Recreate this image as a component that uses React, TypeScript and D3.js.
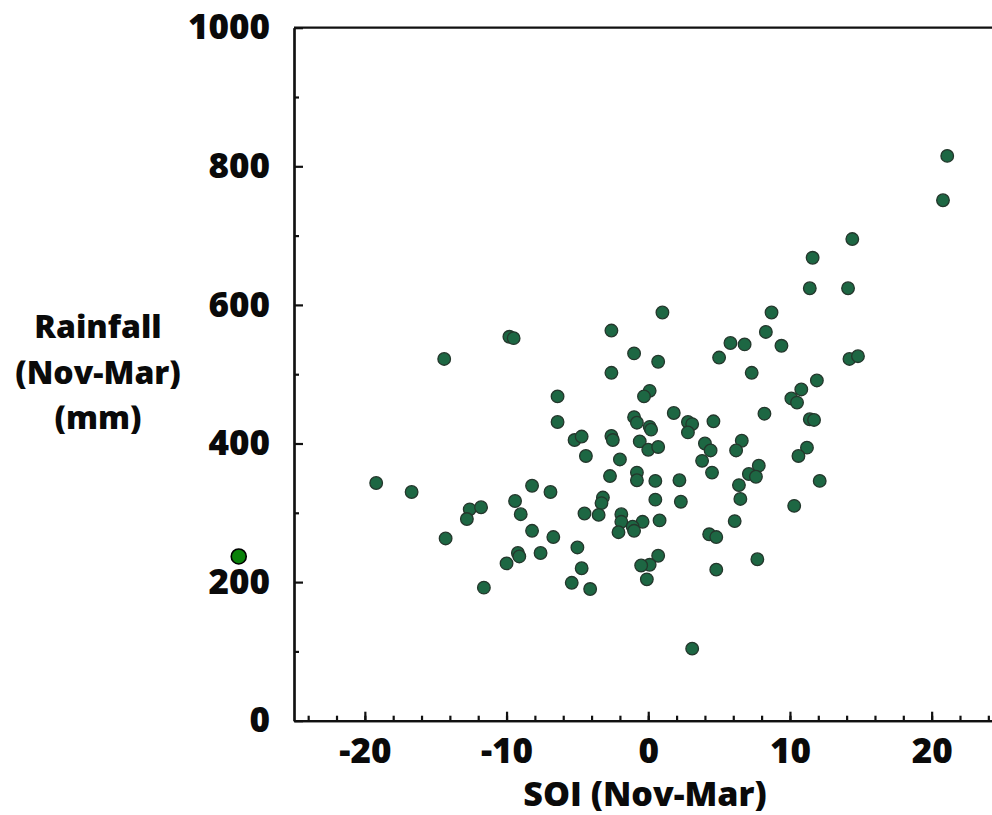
import React, { useEffect, useRef } from "react";
import { scaleLinear, axisLeft, axisBottom, select, range } from "d3";

// SOI (Nov-Mar) vs rainfall (Nov-Mar, mm), one dot per season
const soi = [
  21.1, 20.8, 14.4, 11.6, 11.4, 14.1, 1.0, 8.7, 8.3, 5.8,
  6.8, 9.4, 5.0, 0.7, -1.0, 14.2, 14.8, 7.3, 11.9, 10.8,
  10.1, 10.5, 0.1, -0.3, 1.8, 8.2, 2.8, 3.1, 2.8, 4.6,
  11.4, 11.7, -1.0, -0.8, 0.1, 0.2, -0.6, 0.0, 0.7, 4.0,
  4.4, 3.8, 6.6, 6.2, 11.2, 10.6, 4.5, 7.8, 7.1, 7.6,
  12.1, -0.8, -0.8, 0.5, 2.2, 6.4, 0.5, 2.3, 6.5, 10.3,
  -0.4, 0.8, 6.1, 4.3, 4.8, 0.7, 0.1, -0.5, -0.1, 7.7,
  4.8, 3.1, -2.6, -9.8, -9.5, -14.4, -2.6, -6.4, -6.4, -5.2,
  -4.7, -2.6, -2.5, -4.4, -2.0, -2.7, -19.2, -16.7, -8.2, -6.9,
  -3.2, -3.3, -3.5, -9.4, -12.6, -11.8, -12.8, -9.0, -4.5, -1.9,
  -1.9, -2.1, -1.1, -1.0, -8.2, -6.7, -14.3, -5.0, -9.2, -9.1,
  -7.6, -10.0, -4.7, -5.4, -4.1, -11.6,
];

const rainfall = [
  815, 751, 695, 668, 624, 624, 589, 589, 561, 545,
  543, 541, 524, 518, 530, 522, 526, 502, 491, 478,
  465, 459, 476, 468, 444, 443, 431, 428, 416, 432,
  435, 434, 438, 430, 424, 420, 403, 391, 395, 400,
  390, 375, 404, 390, 394, 382, 358, 368, 356, 352,
  346, 358, 347, 346, 347, 340, 319, 316, 320, 310,
  287, 289, 288, 269, 265, 238, 225, 224, 204, 233,
  218, 104, 563, 554, 552, 522, 502, 468, 431, 405,
  410, 411, 405, 382, 377, 353, 343, 330, 339, 330,
  322, 314, 297, 317, 305, 308, 291, 298, 299, 298,
  287, 272, 280, 274, 274, 265, 263, 250, 242, 237,
  242, 227, 220, 199, 190, 192,
];

// the single bright dot left of the axis
const markSoi = [-28.9];
const markRain = [237];

const xTicks = [-20, -10, 0, 10, 20];
const yTicks = [0, 200, 400, 600, 800, 1000];
const yTitle = ["Rainfall", "(Nov-Mar)", "(mm)"];
const xTitle = "SOI (Nov-Mar)";

const FONT = "'Open Sans', 'DejaVu Sans', sans-serif";

export default function App() {
  const W = 992;
  const H = 815;

  const x = scaleLinear().domain([-25, 25]).range([294, 294 + 50 * 14.17]);
  const y = scaleLinear().domain([0, 1000]).range([720.7, 27.7]);

  const xMajor = useRef(null);
  const xMinor = useRef(null);
  const yMajor = useRef(null);
  const yMinor = useRef(null);

  useEffect(() => {
    // hyphen minus, no thousands comma, like the original
    const fmt = (d) => String(d);
    select(xMinor.current).call(
      axisBottom(x).tickValues(range(-24, 25, 2)).tickSize(-5).tickSizeOuter(0).tickFormat(() => "")
    );
    select(xMajor.current).call(
      axisBottom(x).tickValues(xTicks).tickSize(-9).tickSizeOuter(0).tickPadding(17).tickFormat(fmt)
    );
    select(yMinor.current).call(
      axisLeft(y).tickValues(range(100, 1000, 200)).tickSize(-5).tickSizeOuter(0).tickFormat(() => "")
    );
    select(yMajor.current).call(
      axisLeft(y).tickValues(yTicks).tickSize(-9).tickSizeOuter(0).tickPadding(24).tickFormat(fmt)
    );
    [xMajor, xMinor, yMajor, yMinor].forEach((r) => {
      const g = select(r.current);
      g.selectAll("path, line").attr("stroke", "#111").attr("stroke-width", 2.2);
      g.selectAll("text")
        .attr("fill", "#0a0a0a")
        .style("font-family", FONT)
        .style("font-weight", 800)
        .style("font-size", "35px");
    });
  }, []);

  return (
    <div>
      <svg
        width={W}
        height={H}
        style={{ position: "absolute", left: 0, top: 0, background: "#fff" }}
      >
        <line
          x1={x(-25)}
          x2={x(25)}
          y1={y(1000)}
          y2={y(1000)}
          stroke="#111"
          strokeWidth={2.2}
        />
        <g ref={xMinor} transform={`translate(0,${y(0)})`} />
        <g ref={xMajor} transform={`translate(0,${y(0)})`} />
        <g ref={yMinor} transform={`translate(${x(-25)},0)`} />
        <g ref={yMajor} transform={`translate(${x(-25)},0)`} />

        <g>
          {soi.map((s, i) => (
            <circle
              key={i}
              cx={x(s)}
              cy={y(rainfall[i])}
              r={6.3}
              fill="#1d6743"
              stroke="#24372c"
              strokeWidth={1.3}
            />
          ))}
        </g>
        {markSoi.map((s, i) => (
          <circle
            key={"m" + i}
            cx={x(s)}
            cy={y(markRain[i])}
            r={7.5}
            fill="#0a820a"
            stroke="#000"
            strokeWidth={1.6}
          />
        ))}

        <text
          x={645}
          y={806}
          textAnchor="middle"
          style={{ fontFamily: FONT, fontWeight: 800, fontSize: "34px", fill: "#0a0a0a" }}
        >
          {xTitle}
        </text>
        {yTitle.map((t, i) => (
          <text
            key={t}
            x={98}
            y={338 + i * 45.5}
            textAnchor="middle"
            style={{ fontFamily: FONT, fontWeight: 800, fontSize: "32px", fill: "#0a0a0a" }}
          >
            {t}
          </text>
        ))}
      </svg>
    </div>
  );
}
